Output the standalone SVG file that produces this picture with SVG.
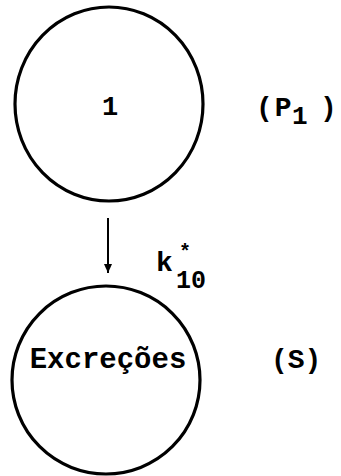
<svg xmlns="http://www.w3.org/2000/svg" width="341" height="476" viewBox="0 0 341 476">
<style>
.c{fill:none;stroke:#000;stroke-width:3.2}
.t{font-family:"Liberation Mono","DejaVu Sans Mono",monospace;font-weight:bold;fill:#000}
</style>
<defs>
<marker id="ah" markerWidth="10" markerHeight="10" refX="9" refY="5" orient="auto" markerUnits="userSpaceOnUse">
<path d="M0,1 L9,5 L0,9 Z" fill="#000"/>
</marker>
</defs>
<rect width="341" height="476" fill="#fff"/>
<g id="node1">
<ellipse class="c" cx="109" cy="104" rx="94" ry="97"/>
<text class="t" x="110" y="115" font-size="27" text-anchor="middle">1</text>
<text class="t" x="256" y="116" font-size="28" letter-spacing="2">(P<tspan x="292" y="124" font-size="26">1</tspan><tspan x="320" y="116">)</tspan></text>
</g>
<g id="nodeS">
<ellipse class="c" cx="106" cy="380" rx="94" ry="94"/>
<text class="t" x="108" y="368" font-size="29" text-anchor="middle">Excreções</text>
<text class="t" x="271" y="368" font-size="28">(S)</text>
</g>
<g id="connectors">
<line x1="108" y1="218" x2="108" y2="273" stroke="#000" stroke-width="2" marker-end="url(#ah)"/>
<text class="t" x="156" y="271" font-size="28">k<tspan x="179" y="258" font-size="20">*</tspan><tspan x="176" y="288" font-size="25">10</tspan></text>
</g>
</svg>
